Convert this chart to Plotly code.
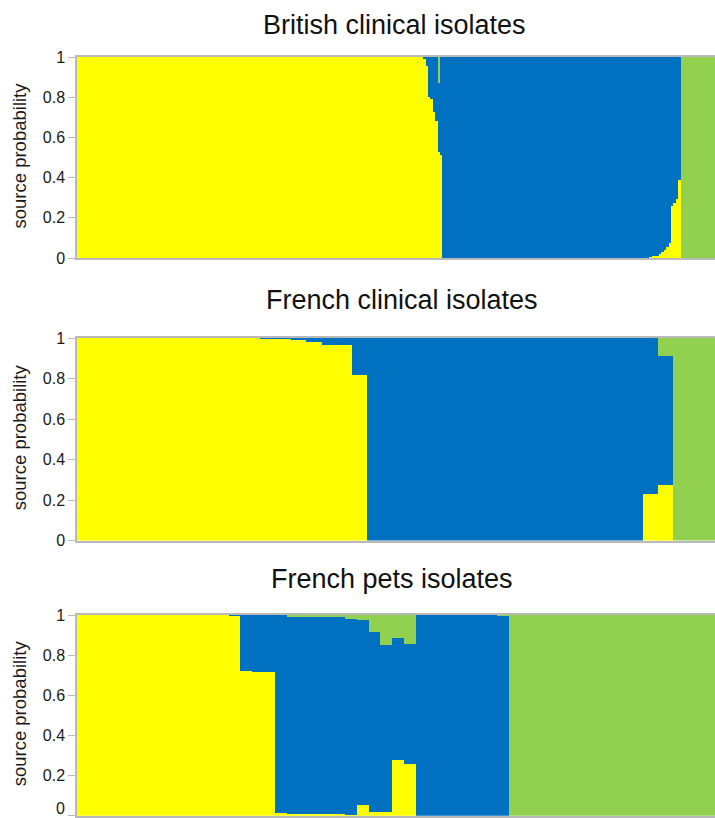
import plotly.graph_objects as go

# Source membership per isolate, run-length encoded: each run repeats its
# yellow and green shares `count` times; the blue share is the remainder.
panel_titles = ["British clinical isolates", "French clinical isolates", "French pets isolates"]

british_counts = [144, 1, 1, 1, 1, 1, 1, 1, 1, 86,
                  1, 1, 1, 1, 1, 1, 1, 1, 1, 1, 1, 1, 1, 16]
british_yellow = [1.0, 0.989, 0.955, 0.80, 0.79, 0.726, 0.68, 0.527, 0.514, 0.0,
                  0.007, 0.012, 0.012, 0.012, 0.02, 0.03, 0.04, 0.053, 0.073,
                  0.26, 0.272, 0.292, 0.39, 0.0]
british_green = [0.0, 0.0, 0.0, 0.0, 0.0, 0.0, 0.0, 0.128, 0.0, 0.0,
                 0.0, 0.0, 0.0, 0.0, 0.0, 0.0, 0.0, 0.0, 0.0,
                 0.0, 0.0, 0.0, 0.0, 1.0]

french_counts = [12, 2, 1, 1, 2, 1, 18, 1, 1, 3]
french_yellow = [1.0, 0.997, 0.99, 0.98, 0.965, 0.817, 0.0, 0.228, 0.274, 0.0]
french_green = [0.0, 0.0, 0.0, 0.0, 0.0, 0.0, 0.0, 0.0, 0.09, 1.0]

pets_counts = [13, 1, 1, 2, 1, 5, 1, 1, 1, 1, 1, 1, 7, 1, 18]
pets_yellow = [1.0, 0.995, 0.722, 0.716, 0.012, 0.007, 0.002, 0.053,
               0.02, 0.017, 0.277, 0.256, 0.0, 0.0, 0.0]
pets_green = [0.0, 0.0, 0.0, 0.0, 0.0, 0.011, 0.02, 0.025,
              0.083, 0.151, 0.116, 0.145, 0.0, 0.005, 1.0]

tick_vals = [0, 0.2, 0.4, 0.6, 0.8, 1]
tick_text = ["0", "0.2", "0.4", "0.6", "0.8", "1"]

YELLOW = "#FFFF00"
BLUE = "#0070C0"
GREEN = "#92D050"
AXIS_GREY = "#b9b9b9"
FONT = "Liberation Sans, Arial, sans-serif"

W, H = 715, 818
PLOT_LEFT = 77
TICK_LABEL_RIGHT = 66
# plot area in pixels: (top, bottom) for each panel
panel_px = [(57, 258), (338, 540.5), (615, 815.7)]
# title centres in pixels: (x, y)
title_px = [(394, 25), (402, 300), (392, 579)]
# the bar area runs a few pixels past the right edge of the page
visible_frac = (W - PLOT_LEFT) / 642.0


def expand(counts, values):
    out = []
    for c, v in zip(counts, values):
        out.extend([v] * c)
    return out


def px_x(px):
    return (px - PLOT_LEFT) / (W - PLOT_LEFT)


panels = [
    (british_counts, british_yellow, british_green),
    (french_counts, french_yellow, french_green),
    (pets_counts, pets_yellow, pets_green),
]

fig = go.Figure()
layout = dict(
    width=W, height=H,
    margin=dict(l=PLOT_LEFT, r=0, t=0, b=0, autoexpand=False),
    paper_bgcolor="white", plot_bgcolor="white",
    barmode="stack", bargap=0, showlegend=False,
    font=dict(family=FONT, color="#1a1a1a"),
    annotations=[],
)

last = len(panels) - 1
for i, (counts, yel, grn) in enumerate(panels):
    yellow = expand(counts, yel)
    green = expand(counts, grn)
    blue = [round(max(0.0, 1.0 - a - b), 4) for a, b in zip(yellow, green)]
    n = len(yellow)
    x = list(range(n))
    sfx = "" if i == 0 else str(i + 1)
    for vals, col, name in ((yellow, YELLOW, "yellow"), (blue, BLUE, "blue"), (green, GREEN, "green")):
        fig.add_trace(go.Bar(
            x=x, y=vals, width=1.0, name=name,
            marker=dict(color=col, line=dict(width=0)),
            xaxis="x" + sfx, yaxis="y" + sfx, hoverinfo="skip",
        ))
    top, bot = panel_px[i]
    # the bottom panel's "0" sits at the page edge, so it is placed as a
    # separate label that stays fully on the page
    labels = list(tick_text)
    if i == last:
        labels[0] = ""
    layout["xaxis" + sfx] = dict(
        domain=[0, 1], anchor="y" + sfx, automargin=False,
        range=[-0.5, -0.5 + n * visible_frac],
        showline=True, linecolor=AXIS_GREY, linewidth=1.5, mirror=True,
        showticklabels=False, ticks="", showgrid=False, zeroline=False,
    )
    layout["yaxis" + sfx] = dict(
        domain=[(H - bot) / H, (H - top) / H], anchor="x" + sfx, automargin=False,
        range=[0, 1], tickvals=tick_vals, ticktext=labels,
        ticks="outside", ticklen=7, tickcolor=AXIS_GREY, tickwidth=1,
        showline=True, linecolor=AXIS_GREY, linewidth=1.5,
        showgrid=False, zeroline=False,
        tickfont=dict(size=16, family=FONT, color="#1a1a1a"),
    )
    tx, ty = title_px[i]
    layout["annotations"].append(dict(
        text=panel_titles[i], xref="paper", yref="paper",
        x=px_x(tx), y=1 - ty / H,
        xanchor="center", yanchor="middle", showarrow=False,
        font=dict(size=27, family=FONT, color="#111111"),
    ))
    layout["annotations"].append(dict(
        text="source probability", xref="paper", yref="paper",
        x=px_x(19), y=1 - ((top + bot) / 2 - 2) / H,
        xanchor="center", yanchor="middle", textangle=-90, showarrow=False,
        font=dict(size=18.5, family=FONT, color="#1a1a1a"),
    ))

layout["annotations"].append(dict(
    text=tick_text[0], xref="paper", yref="paper",
    x=px_x(TICK_LABEL_RIGHT), y=0, xanchor="right", yanchor="bottom",
    showarrow=False, borderpad=0,
    font=dict(size=16, family=FONT, color="#1a1a1a"),
))

fig.update_layout(**layout)
fig.write_html("out.html", config={"displayModeBar": False})
